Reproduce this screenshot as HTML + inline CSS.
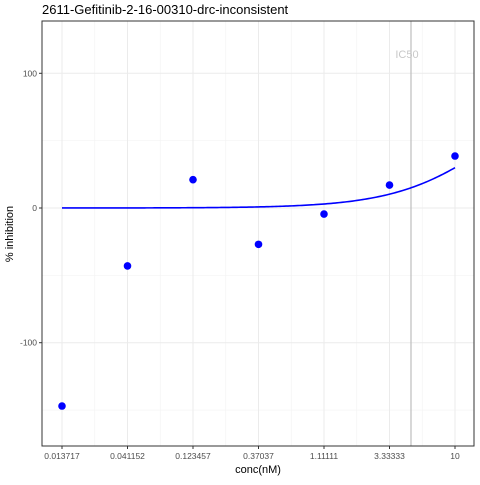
<!DOCTYPE html>
<html><head><meta charset="utf-8"><style>
body{margin:0;background:#fff;font-family:"Liberation Sans",sans-serif}
</style></head><body>
<svg id="chart" width="480" height="480" xmlns="http://www.w3.org/2000/svg"></svg>
<script>
const concLabels=["0.013717","0.041152","0.123457","0.37037","1.11111","3.33333","10"];
const concs=[0.013717,0.041152,0.123457,0.37037,1.11111,3.33333,10];
const inhibition=[-147,-43,21,-27,-4.5,17,38.6];
const yTicks=[-100,0,100];
const ic50=4.78;
const fitTop=100,fitEC50=20.3,fitHill=1.2;

const NS="http://www.w3.org/2000/svg";
const svg=document.getElementById('chart');
const L=42,R=474,T=21,B=446;
const lx0=Math.log10(0.013717),lx1=Math.log10(10);
const xs=v=>62+(Math.log10(v)-lx0)/(lx1-lx0)*393;
const ys=v=>208-v*1.347;
function el(tag,attrs,name,inter){const e=document.createElementNS(NS,tag);for(const k in attrs)e.setAttribute(k,attrs[k]);


svg.appendChild(e);return e;}
el('rect',{x:L,y:T,width:R-L,height:B-T,fill:'#fff'},'plot-panel');
// minor grid
for(let i=0;i<concs.length-1;i++){const m=Math.sqrt(concs[i]*concs[i+1]);el('line',{x1:xs(m),x2:xs(m),y1:T,y2:B,stroke:'#f3f3f3','stroke-width':0.6},'minor-gridline-x');}
[-150,-50,50].forEach(v=>el('line',{x1:L,x2:R,y1:ys(v),y2:ys(v),stroke:'#f3f3f3','stroke-width':0.6},'minor-gridline-y'));
concs.forEach(c=>el('line',{x1:xs(c),x2:xs(c),y1:T,y2:B,stroke:'#ebebeb','stroke-width':1},'gridline-x'));
yTicks.forEach(v=>el('line',{x1:L,x2:R,y1:ys(v),y2:ys(v),stroke:'#ebebeb','stroke-width':1},'gridline-y'));
// IC50
el('line',{x1:xs(ic50),x2:xs(ic50),y1:T,y2:B,stroke:'#bdbdbd','stroke-width':1.2},'ic50-line');
const t=el('text',{x:xs(ic50)-4,y:58,'text-anchor':'middle','font-size':11,fill:'#c8c8c8'},'ic50-label');t.textContent='IC50';
// curve
let d='';for(let i=0;i<=200;i++){const lv=lx0+(lx1-lx0)*i/200;const c=Math.pow(10,lv);const r=fitTop/(1+Math.pow(fitEC50/c,fitHill));d+=(i?'L':'M')+xs(c).toFixed(2)+','+ys(r).toFixed(2);}
el('path',{d:d,fill:'none',stroke:'#0000ff','stroke-width':1.6},'fit-curve');
concs.forEach((c,i)=>el('circle',{cx:xs(c),cy:ys(inhibition[i]),r:3.8,fill:'#0000ff'},'data-point'));
el('rect',{x:L,y:T,width:R-L,height:B-T,fill:'none',stroke:'#333','stroke-width':1},'panel-border');
concs.forEach((c,i)=>{el('line',{x1:xs(c),x2:xs(c),y1:B,y2:B+3,stroke:'#333'},'x-tick');
const tx=el('text',{x:xs(c),y:B+13,'text-anchor':'middle','font-size':8.5,fill:'#4d4d4d'},'x-tick-label');tx.textContent=concLabels[i];});
yTicks.forEach(v=>{el('line',{x1:L-3,x2:L,y1:ys(v),y2:ys(v),stroke:'#333'},'y-tick');
const ty=el('text',{x:L-5,y:ys(v)+3,'text-anchor':'end','font-size':8.5,fill:'#4d4d4d'},'y-tick-label');ty.textContent=v;});
const xt=el('text',{x:258,y:473,'text-anchor':'middle','font-size':11,fill:'#000'},'x-axis-title');xt.textContent='conc(nM)';
const yt=el('text',{x:13,y:234,'text-anchor':'middle','font-size':11,fill:'#000',transform:'rotate(-90 13 234)'},'y-axis-title');yt.textContent='% inhibition';
const tt=el('text',{x:42,y:14,'font-size':13,fill:'#000'},'chart-title');tt.textContent='2611-Gefitinib-2-16-00310-drc-inconsistent';
</script>
</body></html>
